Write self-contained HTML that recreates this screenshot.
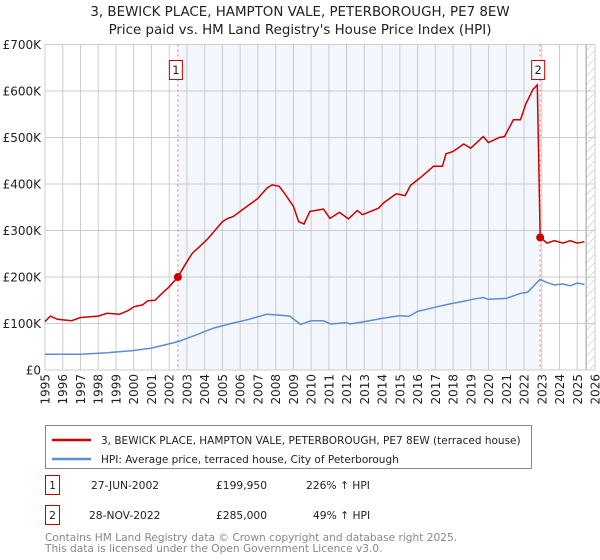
<!DOCTYPE html>
<html><head><meta charset="utf-8"><style>
body{margin:0;background:#fff;width:600px;height:560px;overflow:hidden;font-family:"DejaVu Sans","Liberation Sans",sans-serif;}
svg{display:block}
</style></head><body>
<svg id="c" width="600" height="560" font-family="DejaVu Sans, Liberation Sans, sans-serif">
<defs><pattern id="hatch" width="6" height="6" patternUnits="userSpaceOnUse" patternTransform="rotate(45)"><line x1="0" y1="0" x2="0" y2="6" stroke="#bbb" stroke-width="1"/></pattern></defs>
<text x="300" y="16" text-anchor="middle" font-size="13.4" fill="#222">3, BEWICK PLACE, HAMPTON VALE, PETERBOROUGH, PE7 8EW</text>
<text x="300" y="34" text-anchor="middle" font-size="13.4" fill="#222">Price paid vs. HM Land Registry's House Price Index (HPI)</text>
<g id="plot"></g>
<g>
<rect x="45.5" y="425.5" width="486" height="43" fill="#fff" stroke="#888"/>
<line x1="52" y1="440" x2="91" y2="440" stroke="#cc0000" stroke-width="2.5"/>
<text x="101" y="444" font-size="10.5" fill="#222">3, BEWICK PLACE, HAMPTON VALE, PETERBOROUGH, PE7 8EW (terraced house)</text>
<line x1="52" y1="459" x2="91" y2="459" stroke="#5b8ed6" stroke-width="2.5"/>
<text x="101" y="463" font-size="10.5" fill="#222">HPI: Average price, terraced house, City of Peterborough</text>
</g>
<g font-size="10.7" fill="#222">
<rect x="45.5" y="475.5" width="14" height="19" fill="#fff" stroke="#cc0000"/>
<text x="52.5" y="489" text-anchor="middle">1</text>
<text x="91" y="489">27-JUN-2002</text><text x="216" y="489">£199,950</text><text x="306" y="489">226% ↑ HPI</text>
<rect x="45.5" y="505.5" width="14" height="19" fill="#fff" stroke="#cc0000"/>
<text x="52.5" y="519" text-anchor="middle">2</text>
<text x="89" y="519">28-NOV-2022</text><text x="216" y="519">£285,000</text><text x="313" y="519">49% ↑ HPI</text>
</g>
<text x="45" y="541" font-size="10.6" fill="#888">Contains HM Land Registry data © Crown copyright and database right 2025.</text>
<text x="45" y="552" font-size="10.6" fill="#888">This data is licensed under the Open Government Licence v3.0.</text>
</svg>
<script>
const redYears=[1995.0,1995.3,1995.7,1996.5,1997,1998,1998.5,1999.2,1999.7,2000.0,2000.5,2000.8,2001.2,2001.6,2002.0,2002.49,2003,2003.3,2003.7,2004.2,2004.6,2005.0,2005.3,2005.6,2006,2006.5,2007,2007.5,2007.8,2008.2,2008.5,2009,2009.3,2009.6,2009.93,2010.7,2011.06,2011.6,2012.1,2012.6,2012.9,2013.8,2014.1,2014.8,2015.3,2015.6,2016.1,2016.5,2016.9,2017.4,2017.6,2018.0,2018.6,2019.0,2019.7,2020.0,2020.6,2020.9,2021.4,2021.8,2022.1,2022.5,2022.75,2022.91,2023.3,2023.7,2024.2,2024.6,2025.0,2025.4];
const redValues=[104,116,109,106,113,116,122,120,128,136,140,149,150,165,179,199.95,233,251,265,283,301,319,326,330,341,355,369,391,398,395,380,352,319,314,341,346,326,339,325,343,334,348,360,379,375,397,412,425,438,438,465,470,486,477,502,489,500,502,538,538,572,603,613,285,273,278,273,278,273,276];
const hpiYears=[1995,1997,1998.5,2000,2001,2002.5,2003.5,2004.5,2005.5,2006.5,2007.5,2008.2,2008.8,2009.4,2010.0,2010.7,2011.1,2012,2012.2,2013,2014,2015,2015.5,2016,2017,2017.8,2018.5,2019.1,2019.7,2020,2021,2021.8,2022.2,2022.9,2023.3,2023.7,2024.2,2024.6,2025.0,2025.4];
const hpiValues=[34,34,37,42,47,61,75,90,100,109,120,118,116,98,106,106,99,102,99,104,111,117,115,126,135,142,147,152,156,152,154,165,167,195,188,183,185,181,187,184];
const saleYears=[2002.49,2022.91];
const saleValues=[199.95,285];
const saleLabels=["1","2"];
const yTicks=[0,100,200,300,400,500,600,700];
const yTickLabels=["£0","£100K","£200K","£300K","£400K","£500K","£600K","£700K"];
const xTicks=[1995,1996,1997,1998,1999,2000,2001,2002,2003,2004,2005,2006,2007,2008,2009,2010,2011,2012,2013,2014,2015,2016,2017,2018,2019,2020,2021,2022,2023,2024,2025,2026];

const X0=45,X1=595,Y0=370,Y1=44.5;
const xs=y=>X0+(y-1995)/(2026-1995)*(X1-X0);
const ys=v=>Y0-v/700*(Y0-Y1);
const NS="http://www.w3.org/2000/svg";
const g=document.getElementById('plot');
function mk(t,a,p){const e=document.createElementNS(NS,t);for(const k in a)e.setAttribute(k,a[k]);(p||g).appendChild(e);return e;}

let e=mk('rect',{x:xs(saleYears[0]),y:Y1,width:xs(saleYears[1])-xs(saleYears[0]),height:Y0-Y1,fill:'#f3f6fd'});


e=mk('rect',{x:xs(2025.5),y:Y1,width:X1-xs(2025.5),height:Y0-Y1,fill:'url(#hatch)'});


mk('line',{x1:xs(2025.5),y1:Y1,x2:xs(2025.5),y2:Y0,stroke:'#999'});

xTicks.forEach(t=>{
  const l=mk('line',{x1:xs(t),y1:Y1,x2:xs(t),y2:Y0,stroke:'#ccc'});
  
  
  const x=xs(t);
  const tx=mk('text',{x:0,y:0,transform:`translate(${x+4.5},374) rotate(-90)`,'text-anchor':'end','font-size':'12',fill:'#222'});
  tx.textContent=t;
  
  
});
yTicks.forEach((t,i)=>{
  const l=mk('line',{x1:X0,y1:ys(t),x2:X1,y2:ys(t),stroke:'#ccc'});
  
  
  const tx=mk('text',{x:41,y:ys(t)+4.5,'text-anchor':'end','font-size':'12',fill:'#222'});
  tx.textContent=yTickLabels[i];
  
  
});
mk('rect',{x:X0,y:Y1,width:X1-X0,height:Y0-Y1,fill:'none',stroke:'#ccc'});

saleYears.forEach((s,i)=>{
  const l=mk('line',{x1:xs(s),y1:Y1,x2:xs(s),y2:Y0,stroke:'#f07070','stroke-dasharray':'2,3'});
  
  
});

let d=hpiYears.map((y,i)=>(i?'L':'M')+xs(y).toFixed(1)+','+ys(hpiValues[i]).toFixed(1)).join('');
e=mk('path',{d:d,fill:'none',stroke:'#5b8ed6','stroke-width':1.5});


d=redYears.map((y,i)=>(i?'L':'M')+xs(y).toFixed(1)+','+ys(redValues[i]).toFixed(1)).join('');
e=mk('path',{d:d,fill:'none',stroke:'#cc0000','stroke-width':1.5});



saleYears.forEach((s,i)=>{
  const c=mk('circle',{cx:xs(s),cy:ys(saleValues[i]),r:4,fill:'#cc0000'});
  
  
  const bx=xs(s)-8;
  const r=mk('rect',{x:bx-0.5,y:60.5,width:13,height:19,fill:'#fff',stroke:'#cc0000'});
  
  
  const t=mk('text',{x:bx+6,y:74,'text-anchor':'middle','font-size':'11.5',fill:'#222'});
  t.textContent=saleLabels[i];
  
  
});
</script>
</body></html>
